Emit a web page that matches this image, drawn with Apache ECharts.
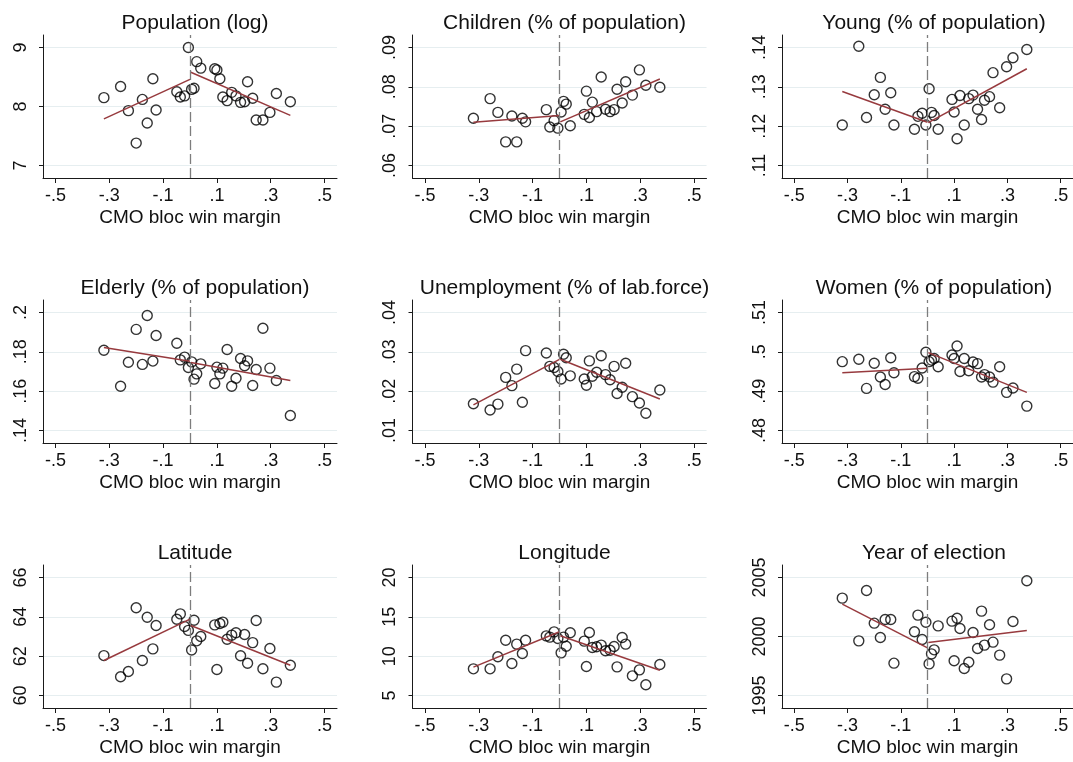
<!DOCTYPE html>
<html>
<head>
<meta charset="utf-8">
<script src="https://cdn.jsdelivr.net/npm/echarts@6/dist/echarts.min.js"></script>
<style>
html, body { margin: 0; padding: 0; background: #fff; }
#chart { width: 1073px; height: 762px; }
</style>
</head>
<body>
<div id="chart"></div>
<script>
// bin midpoints of the running variable (same for every panel)
var xBins = [-0.320, -0.258, -0.229, -0.200, -0.177, -0.159, -0.138, -0.126,
    -0.049, -0.036, -0.020, -0.006, 0.006, 0.015, 0.025, 0.040,
    0.092, 0.100, 0.111, 0.122, 0.138, 0.155, 0.171, 0.188,
    0.203, 0.214, 0.233, 0.246, 0.271, 0.297, 0.321, 0.373];

var titles = ['Population (log)', 'Children (% of population)', 'Young (% of population)',
    'Elderly (% of population)', 'Unemployment (% of lab.force)', 'Women (% of population)',
    'Latitude', 'Longitude', 'Year of election'];

var popLog = [8.15, 8.34, 7.93, 7.38, 8.12, 7.72, 8.47, 7.94,
    8.25, 8.16, 8.18, 9.00, 8.29, 8.31, 8.76, 8.65,
    8.64, 8.62, 8.47, 8.16, 8.10, 8.24, 8.18, 8.07,
    8.08, 8.42, 8.14, 7.77, 7.77, 7.90, 8.22, 8.08];
var children = [0.0720, 0.0770, 0.0735, 0.0660, 0.0726, 0.0660, 0.0720, 0.0711,
    0.0742, 0.0698, 0.0714, 0.0695, 0.0736, 0.0763, 0.0756, 0.0701,
    0.0730, 0.0789, 0.0722, 0.0761, 0.0737, 0.0825, 0.0743, 0.0737,
    0.0742, 0.0794, 0.0759, 0.0813, 0.0779, 0.0843, 0.0804, 0.0799];
var young = [0.1203, 0.1403, 0.1222, 0.1280, 0.1324, 0.1243, 0.1285, 0.1203,
    0.1192, 0.1225, 0.1233, 0.1203, 0.1295, 0.1235, 0.1227, 0.1192,
    0.1268, 0.1236, 0.1168, 0.1278, 0.1203, 0.1270, 0.1279, 0.1243,
    0.1217, 0.1266, 0.1275, 0.1336, 0.1247, 0.1351, 0.1374, 0.1395];
var elderly = [0.1808, 0.1625, 0.1747, 0.1914, 0.1736, 0.1985, 0.1753, 0.1883,
    0.1844, 0.1759, 0.1773, 0.1720, 0.1749, 0.1661, 0.1688, 0.1739,
    0.1639, 0.1722, 0.1688, 0.1717, 0.1812, 0.1625, 0.1666, 0.1766,
    0.1729, 0.1754, 0.1629, 0.1710, 0.1920, 0.1717, 0.1654, 0.1476];
var unemp = [0.0168, 0.0152, 0.0167, 0.0235, 0.0214, 0.0256, 0.0172, 0.0303,
    0.0297, 0.0263, 0.0260, 0.0250, 0.0231, 0.0294, 0.0285, 0.0239,
    0.0231, 0.0215, 0.0277, 0.0238, 0.0248, 0.0290, 0.0242, 0.0229,
    0.0263, 0.0194, 0.0210, 0.0271, 0.0186, 0.0170, 0.0144, 0.0203];
var women = [0.4975, 0.4981, 0.4907, 0.4971, 0.4936, 0.4917, 0.4985, 0.4947,
    0.4937, 0.4933, 0.4959, 0.4999, 0.4975, 0.4979, 0.4983, 0.4962,
    0.4992, 0.4983, 0.5015, 0.4950, 0.4983, 0.4952, 0.4974, 0.4970,
    0.4936, 0.4942, 0.4936, 0.4923, 0.4962, 0.4897, 0.4908, 0.4862];
var latitude = [62.03, 60.95, 61.22, 64.46, 61.78, 63.98, 62.37, 63.56,
    63.88, 64.15, 63.51, 63.31, 62.31, 63.83, 62.78, 63.00,
    63.59, 61.32, 63.66, 63.73, 62.86, 63.07, 63.19, 62.02,
    63.10, 61.64, 62.69, 63.81, 61.36, 62.39, 60.68, 61.54];
var longitude = [8.39, 8.39, 9.92, 12.03, 9.07, 11.53, 10.34, 12.03,
    12.58, 12.42, 13.09, 12.25, 10.42, 12.42, 11.27, 12.97,
    11.91, 8.69, 13.01, 11.10, 11.19, 11.40, 10.68, 10.76,
    11.23, 8.64, 12.37, 11.53, 7.50, 8.26, 6.36, 8.94];
var year = [2003.25, 1999.63, 2003.90, 2001.13, 1999.92, 2001.44, 2001.44, 1997.74,
    2000.40, 2001.81, 1999.75, 2001.21, 1997.68, 1998.53, 1998.87, 2000.90,
    2001.30, 1997.94, 2001.55, 2000.68, 1997.29, 1997.82, 2000.34, 1998.98,
    2002.15, 1999.27, 2000.99, 1999.52, 1998.42, 1996.41, 2001.27, 2004.72];

// linear fits on each side of the cutoff: [value at left end, value at cutoff]
var fitLeft = [[7.79, 8.46], [0.0710, 0.0727], [0.1288, 0.1210],
    [0.1822, 0.1752], [0.0165, 0.0281], [0.4947, 0.4958],
    [61.78, 63.88], [8.6, 13.1], [2002.74, 1999.04]];
// [value at cutoff, value at right end]
var fitRight = [[8.58, 7.85], [0.0711, 0.0820], [0.1209, 0.1346],
    [0.1746, 0.1654], [0.0281, 0.0180], [0.4998, 0.4897],
    [63.56, 61.54], [12.6, 8.2], [1999.49, 2000.51]];

var xTicks = [-0.5, -0.3, -0.1, 0.1, 0.3, 0.5];
var xTickLabels = ['-.5', '-.3', '-.1', '.1', '.3', '.5'];

var yTicks = [[7, 8, 9], [0.06, 0.07, 0.08, 0.09], [0.11, 0.12, 0.13, 0.14],
    [0.14, 0.16, 0.18, 0.2], [0.01, 0.02, 0.03, 0.04], [0.48, 0.49, 0.5, 0.51],
    [60, 62, 64, 66], [5, 10, 15, 20], [1995, 2000, 2005]];
var yTickLabels = [['7', '8', '9'], ['.06', '.07', '.08', '.09'], ['.11', '.12', '.13', '.14'],
    ['.14', '.16', '.18', '.2'], ['.01', '.02', '.03', '.04'], ['.48', '.49', '.5', '.51'],
    ['60', '62', '64', '66'], ['5', '10', '15', '20'], ['1995', '2000', '2005']];

var panels = [popLog, children, young, elderly, unemp, women, latitude, longitude, year];

var FONT = '"Liberation Sans", Arial, Helvetica, sans-serif';
var fitColor = '#973a3e';

function labelFor(ticks, labels) {
    return function (v) {
        for (var i = 0; i < ticks.length; i++) {
            if (Math.abs(ticks[i] - v) < 1e-9 * Math.max(1, Math.abs(v))) return labels[i];
        }
        return '';
    };
}

function buildOption() {
    var grids = [], xAxes = [], yAxes = [], series = [], titleList = [];
    var gw = 294, gh = 143;

    for (var p = 0; p < 9; p++) {
        var row = Math.floor(p / 3), col = p % 3;
        var gLeft = 43 + 369.5 * col, gTop = 35 + 265 * row;
        grids.push({ left: gLeft, top: gTop, width: gw, height: gh });

        titleList.push({
            text: titles[p],
            left: gLeft + gw / 2,
            top: 8 + 265 * row,
            textAlign: 'center',
            textStyle: { fontFamily: FONT, fontSize: 21, fontWeight: 'normal', color: '#111' }
        });

        xAxes.push({
            type: 'value', gridIndex: p,
            min: -0.5464, max: 0.5464,
            name: 'CMO bloc win margin', nameLocation: 'middle', nameGap: 30,
            nameTextStyle: { fontFamily: FONT, fontSize: 19, color: '#111' },
            axisLine: { show: true, onZero: false, lineStyle: { color: '#1a1a1a', width: 1 } },
            axisTick: { show: true, length: 5, customValues: xTicks, lineStyle: { color: '#1a1a1a' } },
            axisLabel: {
                customValues: xTicks, margin: 9,
                fontFamily: FONT, fontSize: 18, color: '#111',
                formatter: labelFor(xTicks, xTickLabels)
            },
            splitLine: { show: false }
        });

        var yt = yTicks[p];
        var pad = (yt[yt.length - 1] - yt[0]) * 12.5 / 118;
        yAxes.push({
            type: 'value', gridIndex: p,
            min: yt[0] - pad, max: yt[yt.length - 1] + pad,
            axisLine: { show: true, onZero: false, lineStyle: { color: '#1a1a1a', width: 1 } },
            axisTick: { show: true, length: 4, customValues: yt, lineStyle: { color: '#1a1a1a' } },
            axisLabel: {
                customValues: yt, rotate: 90, margin: 13,
                fontFamily: FONT, fontSize: 18, color: '#111',
                formatter: labelFor(yt, yTickLabels[p])
            },
            splitLine: { show: true, lineStyle: { color: '#e6eef0', width: 1.2 } }
        });

        var pts = [];
        for (var i = 0; i < xBins.length; i++) pts.push([xBins[i], panels[p][i]]);

        series.push({
            type: 'scatter', xAxisIndex: p, yAxisIndex: p,
            data: pts, symbol: 'circle', symbolSize: 10,
            itemStyle: { color: 'rgba(0,0,0,0)', borderColor: '#000', borderWidth: 1.4 },
            silent: true, z: 3,
            markLine: {
                silent: true, symbol: 'none', label: { show: false },
                lineStyle: { color: '#7d7d7d', type: [10, 4], width: 1.3 },
                data: [{ xAxis: 0 }]
            }
        });
        series.push({
            type: 'line', xAxisIndex: p, yAxisIndex: p,
            data: [[xBins[0], fitLeft[p][0]], [0, fitLeft[p][1]]],
            showSymbol: false, lineStyle: { color: fitColor, width: 1.5 }, silent: true, z: 4
        });
        series.push({
            type: 'line', xAxisIndex: p, yAxisIndex: p,
            data: [[0.003, fitRight[p][0]], [xBins[xBins.length - 1], fitRight[p][1]]],
            showSymbol: false, lineStyle: { color: fitColor, width: 1.5 }, silent: true, z: 4
        });
    }

    return {
        animation: false,
        backgroundColor: '#fff',
        title: titleList,
        grid: grids,
        xAxis: xAxes,
        yAxis: yAxes,
        series: series
    };
}

var myChart = echarts.init(document.getElementById('chart'));
myChart.setOption(buildOption());
window.addEventListener('resize', function () { myChart.resize(); });
</script>
</body>
</html>
